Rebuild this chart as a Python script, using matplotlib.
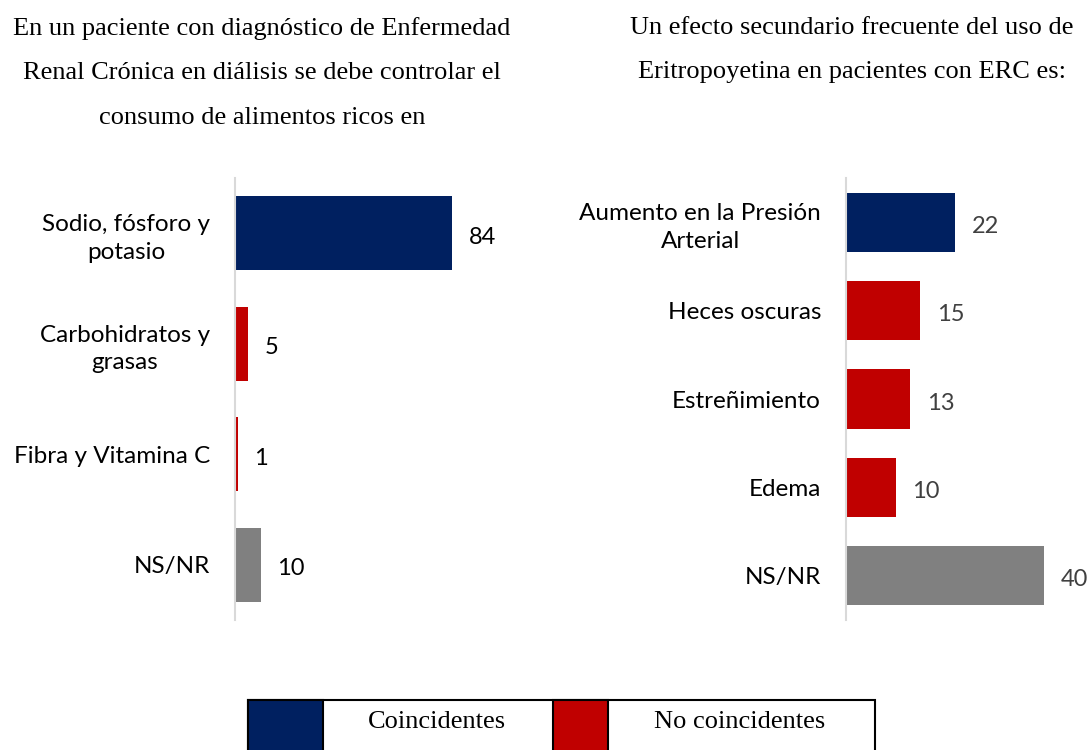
import matplotlib; matplotlib.use("Agg")
import matplotlib.pyplot as plt
from matplotlib.patches import Rectangle

# left panel
left_title = "En un paciente con diagnóstico de Enfermedad\nRenal Crónica en diálisis se debe controlar el\nconsumo de alimentos ricos en"
left_cats = ["Sodio, fósforo y\npotasio", "Carbohidratos y\ngrasas", "Fibra y Vitamina C", "NS/NR"]
left_vals = [84, 5, 1, 10]
left_kind = ["coinc", "no", "no", "nsnr"]

# right panel
right_title = "Un efecto secundario frecuente del uso de\nEritropoyetina en pacientes con ERC es:"
right_cats = ["Aumento en la Presión\nArterial", "Heces oscuras", "Estreñimiento", "Edema", "NS/NR"]
right_vals = [22, 15, 13, 10, 40]
right_kind = ["coinc", "no", "no", "no", "nsnr"]

legend_labels = ["Coincidentes", "No coincidentes"]

COL = {"coinc": "#002060", "no": "#C00000", "nsnr": "#808080"}
SANS = "Lato"
SERIF = "Liberation Serif"

W, H = 1088, 750
fig = plt.figure(figsize=(W / 100, H / 100), dpi=100)


def panel(x0, width, xmax, cats, vals, kinds, lblcol):
    ax = fig.add_axes([x0 / W, 1 - 620 / H, width / W, 442 / H])
    n = len(cats)
    ys = list(range(n))
    ax.barh(ys, vals, height=0.67, color=[COL[k] for k in kinds])
    ax.set_ylim(n - 0.5, -0.5)
    ax.set_xlim(0, xmax)
    ax.set_yticks(ys)
    ax.set_yticklabels(cats, fontsize=17.5, family=SANS, multialignment="center",
                       linespacing=1.38)
    ax.tick_params(axis="y", length=0, pad=18)
    ax.set_xticks([])
    for s in ["top", "right", "bottom"]:
        ax.spines[s].set_visible(False)
    ax.spines["left"].set_color("#d9d9d9")
    ax.spines["left"].set_linewidth(1.5)
    for y, v in zip(ys, vals):
        ax.annotate(str(v), (v, y), xytext=(12, -3), textcoords="offset points",
                    va="center", ha="left", fontsize=17, family=SANS, color=lblcol)
    return ax


panel(235, 258, 100, left_cats, left_vals, left_kind, "black")
panel(846, 238, 48, right_cats, right_vals, right_kind, "#404040")

fig.text(262 / W, 1 - 17 / H, left_title, ha="center", va="top", fontsize=19,
         family=SERIF, linespacing=2.32)
fig.text(852 / W, 1 - 17 / H, right_title, ha="center", va="top", fontsize=19,
         family=SERIF, linespacing=2.32)

# legend box drawn as a table-like strip
lx0, lx1, ly0, ly1 = 248, 875, 700, 752
fig.patches.append(Rectangle((lx0 / W, 1 - ly1 / H), (lx1 - lx0) / W, (ly1 - ly0) / H,
                             transform=fig.transFigure, fill=False, ec="black", lw=1.5))
for (sx0, sx1, tx), lab, k in zip([(248, 323, 437), (553, 608, 740)], legend_labels, ["coinc", "no"]):
    fig.patches.append(Rectangle((sx0 / W, 1 - ly1 / H), (sx1 - sx0) / W, (ly1 - ly0) / H,
                                 transform=fig.transFigure, fc=COL[k], ec="black", lw=1.5))
    fig.text(tx / W, 1 - 722 / H, lab, ha="center", va="center", fontsize=19, family=SERIF)

fig.savefig("out.png", dpi=100)
